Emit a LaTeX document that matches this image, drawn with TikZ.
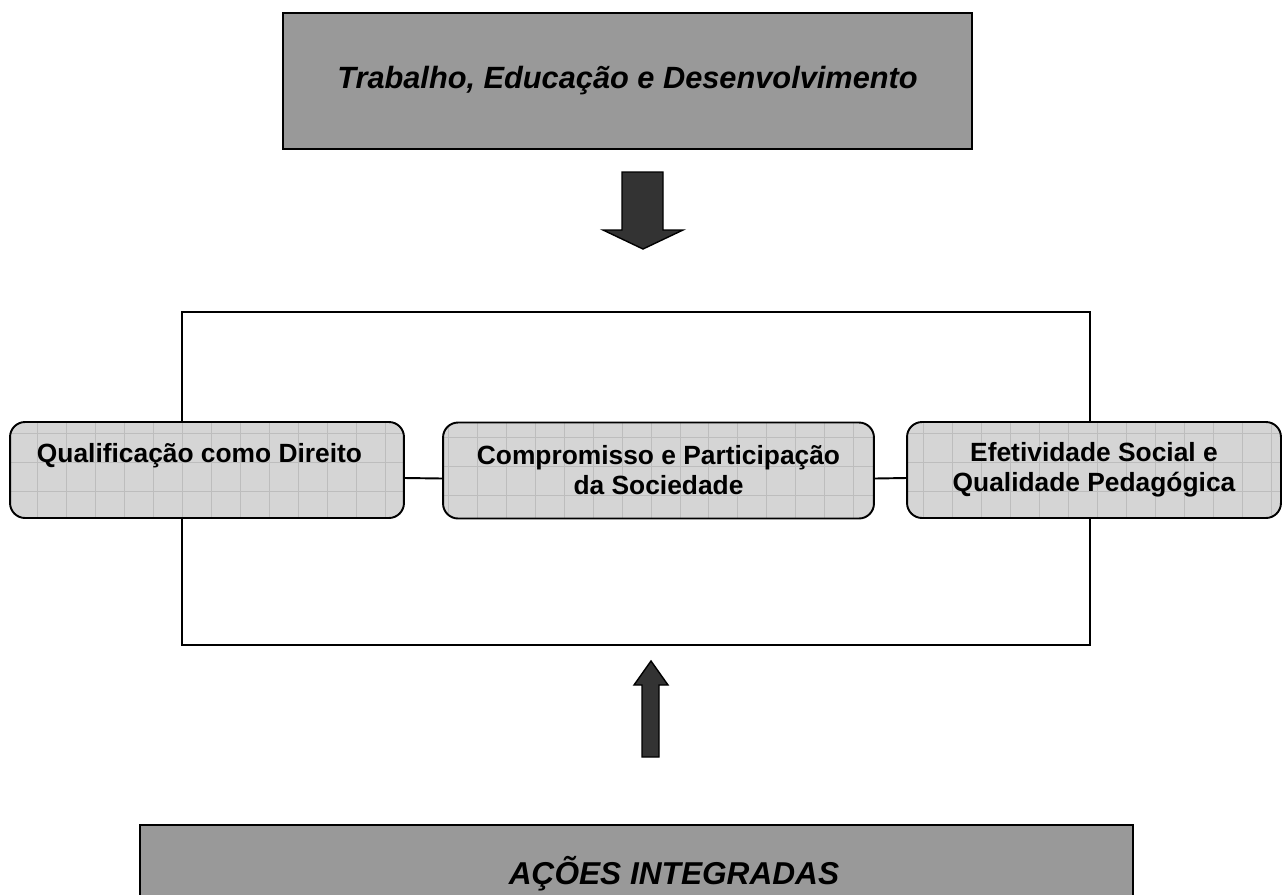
\documentclass[tikz,border=0pt]{standalone}
\usepackage{fontspec}
\setmainfont{Liberation Sans}
\definecolor{titelgrau}{HTML}{999999}
\definecolor{kastengrau}{HTML}{D5D5D5}
\definecolor{rastergrau}{HTML}{BDBDBD}
\definecolor{pfeilgrau}{HTML}{333333}
\tikzset{
	titelkasten/.style={draw=black, line width=1pt, fill=titelgrau, inner sep=0pt,
		font=\fontsize{17.5}{20}\selectfont\bfseries\itshape},
	saeule/.style={draw=black, line width=1.1pt, fill=kastengrau, rounded corners=0.3cm,
		align=center, inner sep=0pt, minimum height=1.92cm,
		font=\fontsize{15}{17}\selectfont\bfseries,
		path picture={\draw[rastergrau, line width=0.4pt, sharp corners]
			(path picture bounding box.south west) grid[step=0.58cm]
			(path picture bounding box.north east);}},
	klammer/.style={line width=1.1pt},
	blockpfeil/.style={draw=black, line width=0.8pt, fill=pfeilgrau},
}
\begin{document}
\begin{tikzpicture}[x=0.02cm, y=-0.02cm]
	\useasboundingbox (0,0) rectangle (1282,894);
	\clip (0,0) rectangle (1282,894);
	
	% Titel
	\node[titelkasten, minimum width=13.78cm, minimum height=2.72cm] (trab) at (627.5,81)
		{Trabalho, Educação e Desenvolvimento};
	
	% Pfeil nach unten
	\draw[blockpfeil] (622,172) -- (663,172) -- (663,230) -- (683,230) -- (643,249)
		-- (603,230) -- (622,230) -- cycle;
	
	% Drei Kästen
	\node[saeule, minimum width=7.88cm, text height=0.4cm, text depth=0.72cm] (qual) at (207,470)
		{Qualificação como Direito\hspace*{0.3cm}};
	\node[saeule, minimum width=8.62cm] (comp) at (658.5,470.5)
		{Compromisso e Participação\\da Sociedade};
	\node[saeule, minimum width=7.48cm] (efet) at (1094,470)
		{Efetividade Social e\\Qualidade Pedagógica};
	
	% Klammer
	\coordinate (ol) at (182,312);
	\coordinate (or) at (1090,312);
	\coordinate (ul) at (182,645);
	\coordinate (ur) at (1090,645);
	\draw[klammer] (qual.north -| ol) -- (ol) -- (or) -- (efet.north -| or);
	\draw[klammer] (qual.south -| ul) -- (ul) -- (ur) -- (efet.south -| ur);
	\draw[klammer] ([yshift=-0.16cm]qual.east) -- ([yshift=-0.16cm]comp.west);
	\draw[klammer] ([yshift=-0.16cm]comp.east) -- ([yshift=-0.16cm]efet.west);
	
	% Pfeil nach oben
	\draw[blockpfeil] (642,757) -- (659,757) -- (659,685) -- (668,685) -- (651,661)
		-- (634,685) -- (642,685) -- cycle;
	
	% Unterer Kasten
	\node[titelkasten, minimum width=19.86cm, minimum height=1.96cm] (unten) at (636.5,874) {};
	\node[font=\fontsize{18}{21}\selectfont\bfseries\itshape] (acoes) at (674,874)
		{AÇÕES INTEGRADAS};
	
\end{tikzpicture}
\end{document}
